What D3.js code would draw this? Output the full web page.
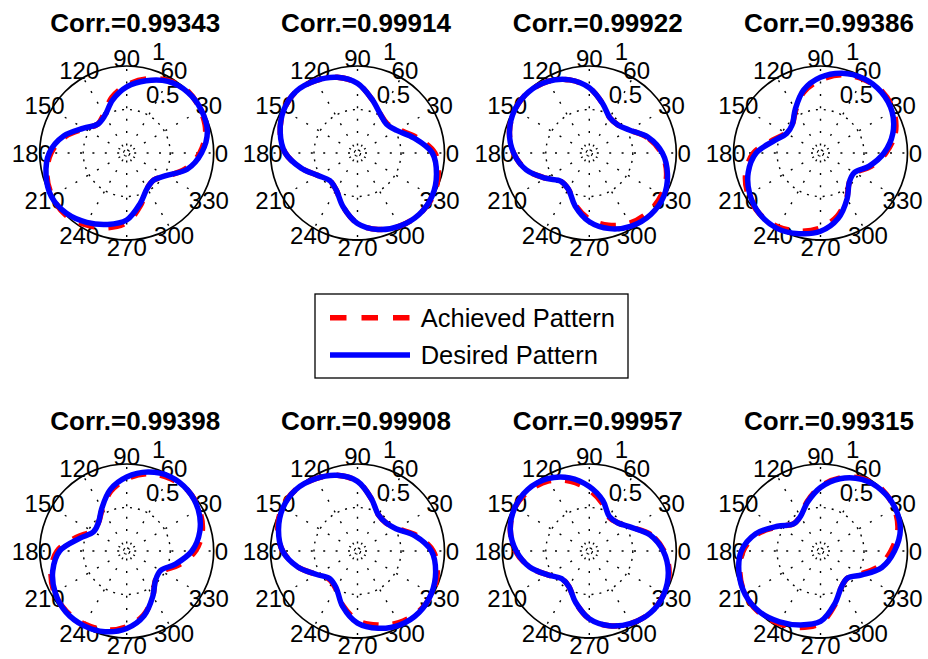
<!DOCTYPE html>
<html>
<head>
<meta charset="utf-8">
<script src="https://cdn.jsdelivr.net/npm/d3@7"></script>
<style>
  body { margin: 0; background: #fff; }
  svg { display: block; }
  text { font-family: "Liberation Sans", Arial, Helvetica, sans-serif; fill: #000; }
</style>
</head>
<body>
<svg id="chart" width="928" height="659"></svg>
<script>
// Sample directions (degrees, counter-clockwise from the positive x axis)
const sampleAngles = [0, 15, 30, 45, 60, 75, 90, 105, 120, 135, 150, 165,
                      180, 195, 210, 225, 240, 255, 270, 285, 300, 315, 330, 345];

// Angular and radial tick labels
const angleTicks = [0, 30, 60, 90, 120, 150, 180, 210, 240, 270, 300, 330];
const radialTicks = [0.5, 1];

// Correlation between achieved and desired pattern, one per panel
const corrValues = ["0.99343", "0.99914", "0.99922", "0.99386",
                    "0.99398", "0.99908", "0.99957", "0.99315"];

// Desired (normalised) patterns
const desired1 = [0.86,0.96,0.99,0.99,0.95,0.86,0.76,0.63,0.50,0.47,0.57,0.75,0.89,0.96,1.00,0.98,0.92,0.85,0.77,0.60,0.47,0.44,0.52,0.72];
const desired2 = [0.86,0.67,0.52,0.47,0.52,0.64,0.80,0.90,0.96,1.00,0.98,0.92,0.83,0.67,0.52,0.45,0.49,0.64,0.81,0.91,0.97,1.00,0.99,0.94];
const desired3 = [0.84,0.70,0.53,0.46,0.47,0.59,0.75,0.87,0.95,0.99,0.99,0.95,0.87,0.75,0.58,0.46,0.48,0.63,0.79,0.90,0.97,1.00,0.99,0.93];
const desired4 = [0.73,0.86,0.95,0.99,0.99,0.95,0.87,0.75,0.58,0.46,0.45,0.55,0.74,0.86,0.94,0.99,1.00,0.96,0.90,0.78,0.61,0.47,0.45,0.58];
const desired5 = [0.75,0.87,0.95,0.99,0.99,0.94,0.85,0.73,0.57,0.46,0.44,0.56,0.77,0.88,0.95,0.99,0.99,0.96,0.89,0.77,0.60,0.47,0.45,0.58];
const desired6 = [0.85,0.68,0.51,0.46,0.48,0.62,0.80,0.90,0.96,1.00,0.99,0.94,0.86,0.71,0.54,0.45,0.49,0.66,0.83,0.92,0.98,1.00,0.98,0.93];
const desired7 = [0.85,0.72,0.55,0.46,0.46,0.60,0.74,0.87,0.96,1.00,0.99,0.94,0.84,0.71,0.55,0.45,0.47,0.61,0.78,0.89,0.96,1.00,0.99,0.94];
const desired8 = [0.85,0.95,0.99,0.99,0.95,0.86,0.73,0.58,0.46,0.44,0.57,0.77,0.91,0.97,1.00,0.99,0.94,0.88,0.81,0.63,0.48,0.44,0.55,0.73];

// Achieved patterns
const achieved1 = [0.84,0.94,0.98,1.00,0.96,0.88,0.78,0.66,0.52,0.47,0.56,0.73,0.87,0.95,0.99,1.00,0.95,0.89,0.80,0.62,0.47,0.44,0.53,0.70];
const achieved2 = [0.89,0.70,0.54,0.48,0.52,0.64,0.80,0.90,0.96,1.00,0.98,0.92,0.83,0.67,0.52,0.45,0.49,0.64,0.81,0.91,0.97,1.00,1.00,0.96];
const achieved3 = [0.83,0.69,0.53,0.46,0.47,0.59,0.75,0.87,0.95,0.99,0.99,0.95,0.87,0.75,0.58,0.46,0.48,0.62,0.76,0.86,0.93,0.96,0.96,0.92];
const achieved4 = [0.75,0.89,0.97,1.00,0.98,0.93,0.84,0.73,0.57,0.46,0.46,0.57,0.77,0.89,0.96,0.99,0.98,0.93,0.86,0.75,0.60,0.47,0.46,0.60];
const achieved5 = [0.79,0.90,0.96,0.99,0.97,0.92,0.83,0.71,0.56,0.46,0.46,0.60,0.80,0.90,0.96,0.98,0.97,0.94,0.87,0.76,0.60,0.47,0.47,0.62];
const achieved6 = [0.87,0.70,0.52,0.46,0.48,0.62,0.80,0.90,0.96,1.00,1.00,0.95,0.86,0.71,0.54,0.46,0.50,0.65,0.80,0.88,0.95,0.99,0.99,0.95];
const achieved7 = [0.86,0.73,0.55,0.46,0.45,0.57,0.70,0.83,0.93,0.98,0.99,0.94,0.85,0.71,0.55,0.45,0.47,0.61,0.78,0.89,0.96,1.00,0.99,0.95];
const achieved8 = [0.81,0.92,0.98,1.00,0.96,0.87,0.74,0.59,0.46,0.44,0.56,0.75,0.89,0.96,1.00,1.00,0.96,0.91,0.83,0.64,0.48,0.44,0.53,0.69];

const desiredSets = [desired1, desired2, desired3, desired4, desired5, desired6, desired7, desired8];
const achievedSets = [achieved1, achieved2, achieved3, achieved4, achieved5, achieved6, achieved7, achieved8];

const legendLabels = ["Achieved Pattern", "Desired Pattern"];
const RED = "#ff0000", BLUE = "#0000ff";

const svg = d3.select("#chart");

// Panel layout
const R = 87;
const colX = [126.7, 357.5, 589.3, 820.5];
const rowY = [153, 551];
const rScale = d3.scaleLinear().domain([0, 1]).range([0, R]);
const toRad = deg => deg * Math.PI / 180;
// lineRadial measures angles clockwise from 12 o'clock
const radialAngle = deg => toRad(90 - deg);

const patternLine = d3.lineRadial()
  .angle(d => radialAngle(d.a))
  .radius(d => rScale(d.r))
  .curve(d3.curveCatmullRomClosed.alpha(0.5));

corrValues.forEach((corr, i) => {
  const cx = colX[i % 4], cy = rowY[Math.floor(i / 4)];
  const g = svg.append("g").attr("transform", `translate(${cx},${cy})`);

  // dotted spokes
  g.selectAll("line.spoke").data(angleTicks).join("line")
    .attr("class", "spoke")
    .attr("x1", 0).attr("y1", 0)
    .attr("x2", d => rScale(1) * Math.cos(toRad(d)))
    .attr("y2", d => -rScale(1) * Math.sin(toRad(d)))
    .attr("stroke", "#000").attr("stroke-width", 1.4)
    .attr("stroke-dasharray", "2,10.4")
    .attr("stroke-dashoffset", -7.5);

  // small dotted ring where the spokes meet
  g.append("circle").attr("r", 3.2)
    .attr("fill", "none").attr("stroke", "#000").attr("stroke-width", 1.2)
    .attr("stroke-dasharray", "3,2");

  // dotted inner ring, solid outer ring
  g.selectAll("circle.ring").data(radialTicks).join("circle")
    .attr("class", "ring")
    .attr("r", d => rScale(d))
    .attr("fill", "none")
    .attr("stroke", "#000")
    .attr("stroke-width", d => d === 1 ? 1.7 : 1.4)
    .attr("stroke-dasharray", d => d === 1 ? null : "2,6");

  // angular labels
  g.selectAll("text.ang").data(angleTicks).join("text")
    .attr("class", "ang")
    .attr("x", d => rScale(1.09) * Math.cos(toRad(d)))
    .attr("y", d => -rScale(1.09) * Math.sin(toRad(d)))
    .attr("text-anchor", "middle")
    .attr("dominant-baseline", "central")
    .attr("font-size", 24)
    .text(d => d);

  // radial labels along the 82 degree direction
  g.selectAll("text.rad").data(radialTicks).join("text")
    .attr("class", "rad")
    .attr("x", d => rScale(d + 0.025) * Math.cos(toRad(82)) + 13)
    .attr("y", d => -rScale(d + 0.025) * Math.sin(toRad(82)) - 5)
    .attr("font-size", 24)
    .text(d => d);

  const toPts = arr => arr.map((r, k) => ({ a: sampleAngles[k], r }));

  g.append("path")
    .attr("d", patternLine(toPts(achievedSets[i])))
    .attr("fill", "none").attr("stroke", RED)
    .attr("stroke-width", 5.5)
    .attr("stroke-dasharray", "16,14");

  g.append("path")
    .attr("d", patternLine(toPts(desiredSets[i])))
    .attr("fill", "none").attr("stroke", BLUE)
    .attr("stroke-width", 5.5);

  svg.append("text")
    .attr("x", cx + 8.5)
    .attr("y", cy - 121.5)
    .attr("text-anchor", "middle")
    .attr("font-size", 26)
    .attr("font-weight", "bold")
    .text("Corr.=" + corr);
});

// Legend
const leg = svg.append("g").attr("transform", "translate(315,294)");
leg.append("rect").attr("width", 313).attr("height", 84)
  .attr("fill", "#fff").attr("stroke", "#000").attr("stroke-width", 1.3);
const legStyles = [
  { color: RED, dash: "16.5,15" },
  { color: BLUE, dash: null }
];
legendLabels.forEach((lab, k) => {
  const y = 23.7 + k * 37.3;
  leg.append("line").attr("x1", 15).attr("x2", 95).attr("y1", y).attr("y2", y)
    .attr("stroke", legStyles[k].color).attr("stroke-width", 5.5)
    .attr("stroke-dasharray", legStyles[k].dash);
  leg.append("text").attr("x", 105.7).attr("y", y + 9.3)
    .attr("font-size", 25.5).text(lab);
});
</script>
</body>
</html>
